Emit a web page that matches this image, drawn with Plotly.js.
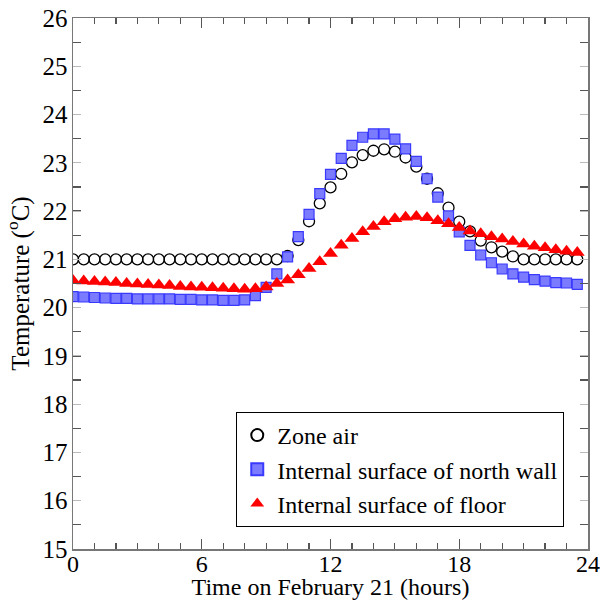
<!DOCTYPE html>
<html>
<head>
<meta charset="utf-8">
<script src="https://cdn.plot.ly/plotly-3.0.1.min.js"></script>
<style>html,body{margin:0;padding:0;background:#fff;}#chart{width:600px;height:600px;}</style>
</head>
<body>
<div id="chart"></div>
<script>
// Time (hours), sampled every half hour
const hours = [0,0.5,1,1.5,2,2.5,3,3.5,4,4.5,5,5.5,6,6.5,7,7.5,8,8.5,9,9.5,10,10.5,11,11.5,12,12.5,13,13.5,14,14.5,15,15.5,16,16.5,17,17.5,18,18.5,19,19.5,20,20.5,21,21.5,22,22.5,23,23.5];

const zoneAir = [21.0,21.0,21.0,21.0,21.0,21.0,21.0,21.0,21.0,21.0,21.0,21.0,21.0,21.0,21.0,21.0,21.0,21.0,21.0,21.0,
  21.07,21.40,21.79,22.16,22.49,22.77,23.01,23.16,23.25,23.28,23.23,23.11,22.92,22.67,22.37,22.07,21.78,21.58,21.39,21.25,21.16,21.06,
  21.0,21.0,21.0,21.0,21.0,21.0];

const northWall = [20.23,20.22,20.21,20.20,20.19,20.19,20.18,20.18,20.18,20.18,20.17,20.17,20.16,20.16,20.15,20.15,20.16,
  20.25,20.42,20.70,
  21.05,21.47,21.93,22.36,22.76,23.09,23.36,23.53,23.60,23.60,23.49,23.29,23.03,22.67,22.29,21.90,21.57,21.29,21.09,20.93,20.80,20.70,20.63,20.58,20.55,20.52,20.51,20.48];

const floorSurf = [20.56,20.55,20.54,20.53,20.52,20.50,20.49,20.48,20.47,20.46,20.44,20.43,20.42,20.41,20.40,20.39,20.38,
  20.39,20.43,20.50,
  20.57,20.68,20.81,20.95,21.12,21.29,21.43,21.57,21.68,21.78,21.84,21.87,21.89,21.86,21.80,21.74,21.66,21.59,21.53,21.47,21.42,21.37,21.32,21.27,21.24,21.20,21.17,21.14];

const seriesNames = ["Zone air","Internal surface of north wall","Internal surface of floor"];
const xTickVals = [0,6,12,18,24];
const yTickVals = [15,16,17,18,19,20,21,22,23,24,25,26];

const FONT = "'Liberation Serif', 'Times New Roman', Times, serif";

const traces = [
  {x: hours, y: zoneAir, name: seriesNames[0], type: "scatter", mode: "markers",
   marker: {symbol: "circle-open", size: 11, color: "#000", line: {width: 1.3, color: "#000"}}},
  {x: hours, y: northWall, name: seriesNames[1], type: "scatter", mode: "markers",
   marker: {symbol: "square", size: 10, color: "#7b7bff", line: {width: 1.2, color: "#3a3aff"}}},
  {x: hours, y: floorSurf, name: seriesNames[2], type: "scatter", mode: "markers",
   marker: {symbol: "triangle-up", size: 13, color: "#ff0000", line: {width: 0}}}
];

const layout = {
  width: 600, height: 600,
  margin: {l: 73, r: 12, t: 18, b: 51},
  paper_bgcolor: "#fff", plot_bgcolor: "#fff",
  font: {family: FONT, size: 25, color: "#000"},
  showlegend: true,
  legend: {
    x: 0.317, y: 0.258, xanchor: "left", yanchor: "top",
    bgcolor: "#fff", bordercolor: "#000", borderwidth: 1,
    font: {family: FONT, size: 24, color: "#000"},
    itemsizing: "constant", tracegroupgap: 0, itemwidth: 30
  },
  xaxis: {
    range: [0, 24], tickvals: xTickVals, ticktext: xTickVals.map(String),
    showgrid: false, zeroline: false,
    showline: true, linecolor: "#777", linewidth: 1.5, mirror: "ticks",
    ticks: "inside", ticklen: 10, tickcolor: "#555", tickwidth: 1.2,
    minor: {dtick: 1, ticks: "inside", ticklen: 6, tickcolor: "#555", tickwidth: 1.2, showgrid: false},
    tickfont: {family: FONT, size: 24},
    ticklabelstandoff: -7,
    title: {text: "Time on February 21 (hours)", font: {family: FONT, size: 24}, standoff: 3},
    automargin: false
  },
  yaxis: {
    range: [15, 26], tickvals: yTickVals, ticktext: yTickVals.map(String),
    showgrid: false, zeroline: false,
    showline: true, linecolor: "#777", linewidth: 1.5, mirror: "ticks",
    ticks: "inside", ticklen: 8, tickcolor: "#bbb", tickwidth: 1,
    minor: {dtick: 0.5, tick0: 0.5, ticks: "inside", ticklen: 8, tickcolor: "#555", tickwidth: 1.2, showgrid: false},
    tickfont: {family: FONT, size: 25},
    ticklabelstandoff: -1,
    title: {text: "Temperature (<sup>o</sup>C)", font: {family: FONT, size: 25}, standoff: 6},
    automargin: false
  }
};

Plotly.newPlot("chart", traces, layout, {displayModeBar: false, staticPlot: true});
</script>
</body>
</html>
